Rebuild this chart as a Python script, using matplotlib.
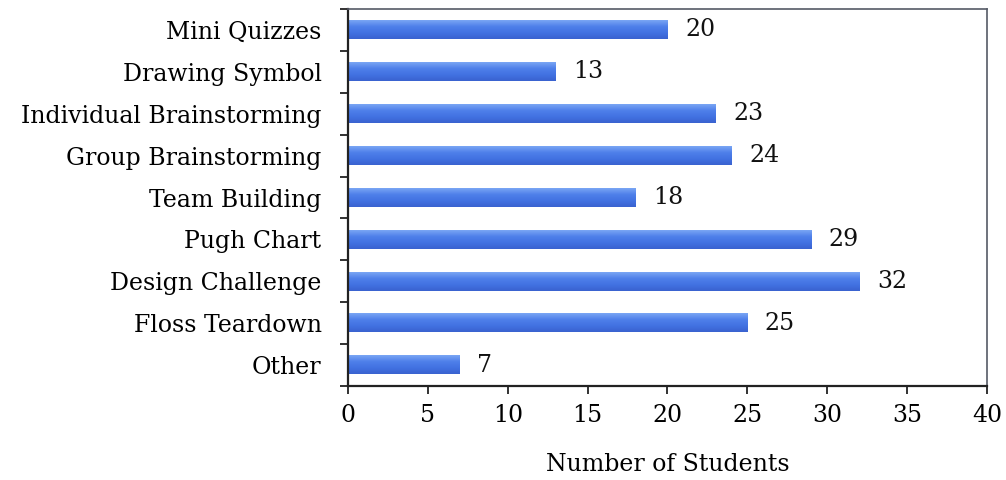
import matplotlib
matplotlib.use("Agg")
import matplotlib.pyplot as plt
import numpy as np
from matplotlib.colors import LinearSegmentedColormap

categories = ["Mini Quizzes", "Drawing Symbol", "Individual Brainstorming",
              "Group Brainstorming", "Team Building", "Pugh Chart",
              "Design Challenge", "Floss Teardown", "Other"]
values = [20, 13, 23, 24, 18, 29, 32, 25, 7]
xticks = [0, 5, 10, 15, 20, 25, 30, 35, 40]

plt.rcParams['font.family'] = ['DejaVu Serif']
fs = 17

fig = plt.figure(figsize=(10.06, 4.8), dpi=100)
ax = fig.add_axes([0.3459, 0.1958, 0.9811 - 0.3459, 0.98125 - 0.1958])

n = len(categories)
ypos = np.arange(n)
h = 0.44
cmap = LinearSegmentedColormap.from_list("g", ["#7aa6f4", "#4f80ea", "#4272e2", "#3a62cf"])
grad = np.linspace(0, 1, 64).reshape(-1, 1)
for i, v in zip(ypos, values):
    ax.imshow(grad, extent=(0, v, i + h / 2, i - h / 2), aspect='auto', cmap=cmap,
              origin='upper', zorder=2, interpolation='bilinear')
    ax.text(v + 1.1, i, str(v), va='center', ha='left', fontsize=fs, color='#111111')

ax.set_xlim(0, 40)
ax.set_ylim(n - 0.5, -0.5)
ax.set_xticks(xticks)
ax.set_xticklabels([str(t) for t in xticks], fontsize=fs)
ax.set_yticks(ypos)
ax.set_yticklabels(categories, fontsize=fs)
ax.tick_params(axis='y', length=0, pad=19)
ax.set_yticks(np.arange(-0.5, n, 1), minor=True)
ax.tick_params(axis='y', which='minor', length=6, width=1.3, direction='out', color='#222222')
ax.tick_params(axis='x', length=6, width=1.3, direction='out', color='#222222', pad=7)
for s in ['left', 'bottom']:
    ax.spines[s].set_linewidth(1.6)
    ax.spines[s].set_color('#222222')
for s in ['top', 'right']:
    ax.spines[s].set_linewidth(1.2)
    ax.spines[s].set_color('#555a66')
ax.set_xlabel("Number of Students", fontsize=fs, labelpad=19)

fig.savefig("out.png", dpi=100)
